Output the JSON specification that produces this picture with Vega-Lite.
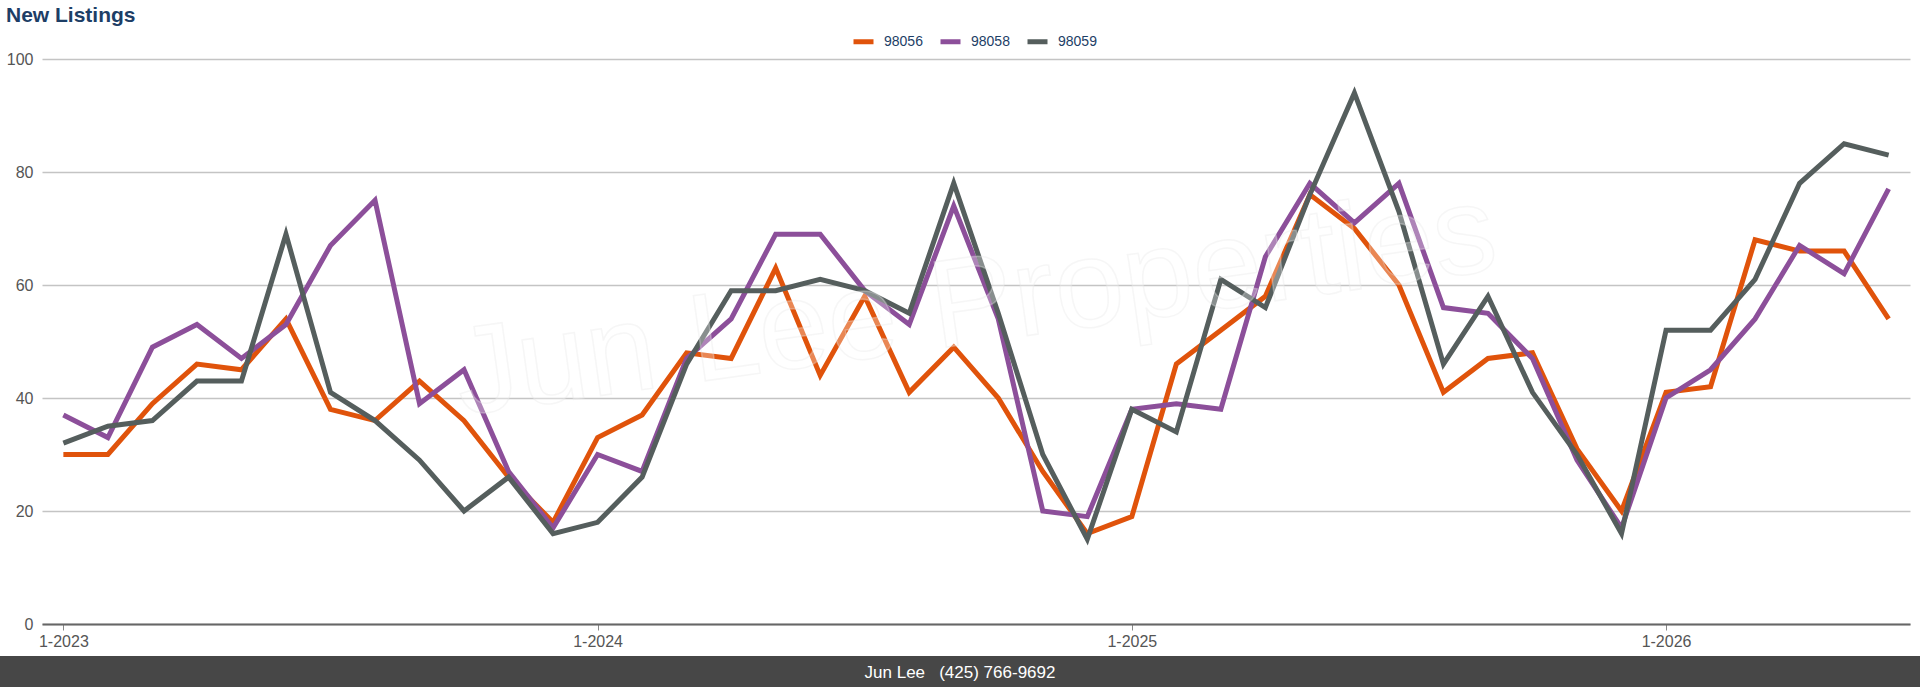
{
  "$schema": "https://vega.github.io/schema/vega-lite/v6.json",
  "padding": {"top": 5, "left": 0, "right": 0, "bottom": 0},
  "autosize": {"type": "pad"},
  "background": "#ffffff",
  "spacing": 7,
  "title": {"text": "New Listings", "anchor": "start", "fontSize": 21, "fontWeight": "bold", "color": "#1d3e66", "font": "Liberation Sans", "dx": 6, "offset": 3},
  "config": {"view": {"stroke": null}, "font": "Liberation Sans"},
  "vconcat": [
    {
      "width": 1910,
      "height": 565,
      "data": {"values": [
        {"m": "1-2023", "98056": 30, "98058": 37, "98059": 32},
        {"m": "2-2023", "98056": 30, "98058": 33, "98059": 35},
        {"m": "3-2023", "98056": 39, "98058": 49, "98059": 36},
        {"m": "4-2023", "98056": 46, "98058": 53, "98059": 43},
        {"m": "5-2023", "98056": 45, "98058": 47, "98059": 43},
        {"m": "6-2023", "98056": 54, "98058": 53, "98059": 69},
        {"m": "7-2023", "98056": 38, "98058": 67, "98059": 41},
        {"m": "8-2023", "98056": 36, "98058": 75, "98059": 36},
        {"m": "9-2023", "98056": 43, "98058": 39, "98059": 29},
        {"m": "10-2023", "98056": 36, "98058": 45, "98059": 20},
        {"m": "11-2023", "98056": 26, "98058": 27, "98059": 26},
        {"m": "12-2023", "98056": 18, "98058": 17, "98059": 16},
        {"m": "1-2024", "98056": 33, "98058": 30, "98059": 18},
        {"m": "2-2024", "98056": 37, "98058": 27, "98059": 26},
        {"m": "3-2024", "98056": 48, "98058": 47, "98059": 46},
        {"m": "4-2024", "98056": 47, "98058": 54, "98059": 59},
        {"m": "5-2024", "98056": 63, "98058": 69, "98059": 59},
        {"m": "6-2024", "98056": 44, "98058": 69, "98059": 61},
        {"m": "7-2024", "98056": 58, "98058": 59, "98059": 59},
        {"m": "8-2024", "98056": 41, "98058": 53, "98059": 55},
        {"m": "9-2024", "98056": 49, "98058": 74, "98059": 78},
        {"m": "10-2024", "98056": 40, "98058": 54, "98059": 55},
        {"m": "11-2024", "98056": 27, "98058": 20, "98059": 30},
        {"m": "12-2024", "98056": 16, "98058": 19, "98059": 15},
        {"m": "1-2025", "98056": 19, "98058": 38, "98059": 38},
        {"m": "2-2025", "98056": 46, "98058": 39, "98059": 34},
        {"m": "3-2025", "98056": 52, "98058": 38, "98059": 61},
        {"m": "4-2025", "98056": 58, "98058": 65, "98059": 56},
        {"m": "5-2025", "98056": 76, "98058": 78, "98059": 76},
        {"m": "6-2025", "98056": 70, "98058": 71, "98059": 94},
        {"m": "7-2025", "98056": 60, "98058": 78, "98059": 73},
        {"m": "8-2025", "98056": 41, "98058": 56, "98059": 46},
        {"m": "9-2025", "98056": 47, "98058": 55, "98059": 58},
        {"m": "10-2025", "98056": 48, "98058": 47, "98059": 41},
        {"m": "11-2025", "98056": 31, "98058": 29, "98059": 30},
        {"m": "12-2025", "98056": 20, "98058": 17, "98059": 16},
        {"m": "1-2026", "98056": 41, "98058": 40, "98059": 52},
        {"m": "2-2026", "98056": 42, "98058": 45, "98059": 52},
        {"m": "3-2026", "98056": 68, "98058": 54, "98059": 61},
        {"m": "4-2026", "98056": 66, "98058": 67, "98059": 78},
        {"m": "5-2026", "98056": 66, "98058": 62, "98059": 85},
        {"m": "6-2026", "98056": 54, "98058": 77, "98059": 83}
      ]},
      "layer": [
        {
          "transform": [{"fold": ["98056", "98058", "98059"], "as": ["zip", "value"]}],
          "mark": {"type": "line", "strokeWidth": 5},
          "encoding": {
            "x": {
              "field": "m", "type": "ordinal", "sort": null,
              "scale": {"type": "point", "padding": 0.48, "range": [42, 1910]},
              "axis": {"title": null, "values": ["1-2023", "1-2024", "1-2025", "1-2026"], "labelAngle": 0, "labelFontSize": 16, "labelColor": "#555555", "labelFont": "Liberation Sans", "domainColor": "#666666", "domainWidth": 2, "tickColor": "#888888", "tickSize": 6, "tickWidth": 1, "labelPadding": 3, "grid": false}
            },
            "y": {
              "field": "value", "type": "quantitative",
              "scale": {"domain": [0, 100], "nice": false, "zero": true},
              "axis": {"title": null, "values": [0, 20, 40, 60, 80, 100], "domain": false, "ticks": false, "labelFontSize": 16, "labelColor": "#555555", "labelFont": "Liberation Sans", "labelAlign": "right", "labelPadding": -33, "gridColor": "#c4c4c4", "gridWidth": 1.5}
            },
            "color": {
              "field": "zip", "type": "nominal",
              "scale": {"domain": ["98056", "98058", "98059"], "range": ["#e0530b", "#8c4f9a", "#555e5d"]},
              "legend": {"orient": "none", "legendX": 851, "legendY": -30, "direction": "horizontal", "title": null, "symbolType": "stroke", "symbolStrokeWidth": 5, "symbolSize": 400, "labelFontSize": 14, "labelColor": "#1d3e66", "labelFont": "Liberation Sans", "labelOffset": 8, "columnPadding": 7}
            }
          }
        },
        {
          "data": {"values": [{"m": "9-2024", "value": 56, "wm": "Jun Lee Properties"}]},
          "mark": {"type": "text", "angle": -8, "dx": 22, "fontSize": 125, "font": "Liberation Sans", "fill": "#ffffff", "fillOpacity": 0.3, "stroke": "#e4e4e4", "strokeOpacity": 0.35, "strokeWidth": 1.5, "align": "center", "baseline": "middle"},
          "encoding": {
            "x": {"field": "m", "type": "ordinal", "sort": null},
            "y": {"field": "value", "type": "quantitative"},
            "text": {"field": "wm"}
          }
        }
      ]
    },
    {
      "width": 1920,
      "height": 33,
      "view": {"fill": "#474747", "stroke": null},
      "data": {"values": [{"t": "Jun Lee\u00a0\u00a0\u00a0(425) 766-9692"}]},
      "mark": {"type": "text", "color": "#ffffff", "fontSize": 17, "font": "Liberation Sans"},
      "encoding": {"text": {"field": "t"}}
    }
  ]
}
